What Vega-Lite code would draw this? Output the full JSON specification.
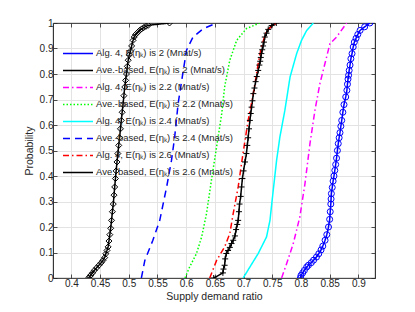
{
  "$schema": "https://vega.github.io/schema/vega-lite/v6.json",
  "autosize": {"type": "none"},
  "width": 322,
  "height": 255,
  "padding": {"left": 53, "top": 23, "right": 40, "bottom": 34},
  "background": "white",
  "config": {
    "font": "Liberation Sans",
    "view": {"stroke": "#262626", "strokeWidth": 0.8},
    "axis": {
      "domainColor": "#262626", "tickColor": "#262626", "labelColor": "#262626",
      "titleColor": "#262626", "labelFontSize": 10, "titleFontSize": 10.5,
      "titleFontWeight": "normal", "gridColor": "#e3e3e3", "tickSize": -4,
      "domainWidth": 0.8, "tickWidth": 0.8, "format": "~g"
    }
  },
  "datasets": {
    "cdf": [
      {"s": "Alg. 4, E(ηₖ) is 2 (Mnat/s)", "x": 0.799, "y": 0.0},
      {"s": "Alg. 4, E(ηₖ) is 2 (Mnat/s)", "x": 0.800, "y": 0.01},
      {"s": "Alg. 4, E(ηₖ) is 2 (Mnat/s)", "x": 0.803, "y": 0.02},
      {"s": "Alg. 4, E(ηₖ) is 2 (Mnat/s)", "x": 0.806, "y": 0.03},
      {"s": "Alg. 4, E(ηₖ) is 2 (Mnat/s)", "x": 0.810, "y": 0.043},
      {"s": "Alg. 4, E(ηₖ) is 2 (Mnat/s)", "x": 0.813, "y": 0.05},
      {"s": "Alg. 4, E(ηₖ) is 2 (Mnat/s)", "x": 0.818, "y": 0.06},
      {"s": "Alg. 4, E(ηₖ) is 2 (Mnat/s)", "x": 0.822, "y": 0.07},
      {"s": "Alg. 4, E(ηₖ) is 2 (Mnat/s)", "x": 0.827, "y": 0.082},
      {"s": "Alg. 4, E(ηₖ) is 2 (Mnat/s)", "x": 0.831, "y": 0.095},
      {"s": "Alg. 4, E(ηₖ) is 2 (Mnat/s)", "x": 0.835, "y": 0.11},
      {"s": "Alg. 4, E(ηₖ) is 2 (Mnat/s)", "x": 0.838, "y": 0.125},
      {"s": "Alg. 4, E(ηₖ) is 2 (Mnat/s)", "x": 0.842, "y": 0.148},
      {"s": "Alg. 4, E(ηₖ) is 2 (Mnat/s)", "x": 0.845, "y": 0.17},
      {"s": "Alg. 4, E(ηₖ) is 2 (Mnat/s)", "x": 0.848, "y": 0.2},
      {"s": "Alg. 4, E(ηₖ) is 2 (Mnat/s)", "x": 0.850, "y": 0.23},
      {"s": "Alg. 4, E(ηₖ) is 2 (Mnat/s)", "x": 0.851, "y": 0.26},
      {"s": "Alg. 4, E(ηₖ) is 2 (Mnat/s)", "x": 0.852, "y": 0.29},
      {"s": "Alg. 4, E(ηₖ) is 2 (Mnat/s)", "x": 0.8525, "y": 0.31},
      {"s": "Alg. 4, E(ηₖ) is 2 (Mnat/s)", "x": 0.853, "y": 0.331},
      {"s": "Alg. 4, E(ηₖ) is 2 (Mnat/s)", "x": 0.8545, "y": 0.355},
      {"s": "Alg. 4, E(ηₖ) is 2 (Mnat/s)", "x": 0.856, "y": 0.38},
      {"s": "Alg. 4, E(ηₖ) is 2 (Mnat/s)", "x": 0.8575, "y": 0.40},
      {"s": "Alg. 4, E(ηₖ) is 2 (Mnat/s)", "x": 0.859, "y": 0.422},
      {"s": "Alg. 4, E(ηₖ) is 2 (Mnat/s)", "x": 0.8605, "y": 0.445},
      {"s": "Alg. 4, E(ηₖ) is 2 (Mnat/s)", "x": 0.862, "y": 0.47},
      {"s": "Alg. 4, E(ηₖ) is 2 (Mnat/s)", "x": 0.8635, "y": 0.50},
      {"s": "Alg. 4, E(ηₖ) is 2 (Mnat/s)", "x": 0.865, "y": 0.527},
      {"s": "Alg. 4, E(ηₖ) is 2 (Mnat/s)", "x": 0.8665, "y": 0.55},
      {"s": "Alg. 4, E(ηₖ) is 2 (Mnat/s)", "x": 0.868, "y": 0.57},
      {"s": "Alg. 4, E(ηₖ) is 2 (Mnat/s)", "x": 0.8695, "y": 0.595},
      {"s": "Alg. 4, E(ηₖ) is 2 (Mnat/s)", "x": 0.871, "y": 0.618},
      {"s": "Alg. 4, E(ηₖ) is 2 (Mnat/s)", "x": 0.873, "y": 0.65},
      {"s": "Alg. 4, E(ηₖ) is 2 (Mnat/s)", "x": 0.875, "y": 0.68},
      {"s": "Alg. 4, E(ηₖ) is 2 (Mnat/s)", "x": 0.878, "y": 0.71},
      {"s": "Alg. 4, E(ηₖ) is 2 (Mnat/s)", "x": 0.880, "y": 0.736},
      {"s": "Alg. 4, E(ηₖ) is 2 (Mnat/s)", "x": 0.881, "y": 0.76},
      {"s": "Alg. 4, E(ηₖ) is 2 (Mnat/s)", "x": 0.882, "y": 0.78},
      {"s": "Alg. 4, E(ηₖ) is 2 (Mnat/s)", "x": 0.883, "y": 0.795},
      {"s": "Alg. 4, E(ηₖ) is 2 (Mnat/s)", "x": 0.884, "y": 0.814},
      {"s": "Alg. 4, E(ηₖ) is 2 (Mnat/s)", "x": 0.8855, "y": 0.835},
      {"s": "Alg. 4, E(ηₖ) is 2 (Mnat/s)", "x": 0.887, "y": 0.86},
      {"s": "Alg. 4, E(ηₖ) is 2 (Mnat/s)", "x": 0.889, "y": 0.88},
      {"s": "Alg. 4, E(ηₖ) is 2 (Mnat/s)", "x": 0.891, "y": 0.906},
      {"s": "Alg. 4, E(ηₖ) is 2 (Mnat/s)", "x": 0.893, "y": 0.925},
      {"s": "Alg. 4, E(ηₖ) is 2 (Mnat/s)", "x": 0.896, "y": 0.94},
      {"s": "Alg. 4, E(ηₖ) is 2 (Mnat/s)", "x": 0.899, "y": 0.955},
      {"s": "Alg. 4, E(ηₖ) is 2 (Mnat/s)", "x": 0.903, "y": 0.971},
      {"s": "Alg. 4, E(ηₖ) is 2 (Mnat/s)", "x": 0.911, "y": 0.985},
      {"s": "Alg. 4, E(ηₖ) is 2 (Mnat/s)", "x": 0.920, "y": 1.0},

      {"s": "Ave.-based, E(ηₖ) is 2 (Mnat/s)", "x": 0.648, "y": 0.0},
      {"s": "Ave.-based, E(ηₖ) is 2 (Mnat/s)", "x": 0.664, "y": 0.02},
      {"s": "Ave.-based, E(ηₖ) is 2 (Mnat/s)", "x": 0.665, "y": 0.035},
      {"s": "Ave.-based, E(ηₖ) is 2 (Mnat/s)", "x": 0.667, "y": 0.05},
      {"s": "Ave.-based, E(ηₖ) is 2 (Mnat/s)", "x": 0.668, "y": 0.075},
      {"s": "Ave.-based, E(ηₖ) is 2 (Mnat/s)", "x": 0.670, "y": 0.096},
      {"s": "Ave.-based, E(ηₖ) is 2 (Mnat/s)", "x": 0.673, "y": 0.108},
      {"s": "Ave.-based, E(ηₖ) is 2 (Mnat/s)", "x": 0.676, "y": 0.12},
      {"s": "Ave.-based, E(ηₖ) is 2 (Mnat/s)", "x": 0.679, "y": 0.135},
      {"s": "Ave.-based, E(ηₖ) is 2 (Mnat/s)", "x": 0.682, "y": 0.148},
      {"s": "Ave.-based, E(ηₖ) is 2 (Mnat/s)", "x": 0.685, "y": 0.165},
      {"s": "Ave.-based, E(ηₖ) is 2 (Mnat/s)", "x": 0.687, "y": 0.19},
      {"s": "Ave.-based, E(ηₖ) is 2 (Mnat/s)", "x": 0.689, "y": 0.21},
      {"s": "Ave.-based, E(ηₖ) is 2 (Mnat/s)", "x": 0.6906, "y": 0.226},
      {"s": "Ave.-based, E(ηₖ) is 2 (Mnat/s)", "x": 0.692, "y": 0.26},
      {"s": "Ave.-based, E(ηₖ) is 2 (Mnat/s)", "x": 0.693, "y": 0.29},
      {"s": "Ave.-based, E(ηₖ) is 2 (Mnat/s)", "x": 0.695, "y": 0.32},
      {"s": "Ave.-based, E(ηₖ) is 2 (Mnat/s)", "x": 0.6965, "y": 0.357},
      {"s": "Ave.-based, E(ηₖ) is 2 (Mnat/s)", "x": 0.698, "y": 0.39},
      {"s": "Ave.-based, E(ηₖ) is 2 (Mnat/s)", "x": 0.700, "y": 0.42},
      {"s": "Ave.-based, E(ηₖ) is 2 (Mnat/s)", "x": 0.7025, "y": 0.455},
      {"s": "Ave.-based, E(ηₖ) is 2 (Mnat/s)", "x": 0.705, "y": 0.488},
      {"s": "Ave.-based, E(ηₖ) is 2 (Mnat/s)", "x": 0.7065, "y": 0.52},
      {"s": "Ave.-based, E(ηₖ) is 2 (Mnat/s)", "x": 0.708, "y": 0.55},
      {"s": "Ave.-based, E(ηₖ) is 2 (Mnat/s)", "x": 0.7095, "y": 0.585},
      {"s": "Ave.-based, E(ηₖ) is 2 (Mnat/s)", "x": 0.711, "y": 0.618},
      {"s": "Ave.-based, E(ηₖ) is 2 (Mnat/s)", "x": 0.7125, "y": 0.645},
      {"s": "Ave.-based, E(ηₖ) is 2 (Mnat/s)", "x": 0.714, "y": 0.67},
      {"s": "Ave.-based, E(ηₖ) is 2 (Mnat/s)", "x": 0.7155, "y": 0.695},
      {"s": "Ave.-based, E(ηₖ) is 2 (Mnat/s)", "x": 0.717, "y": 0.723},
      {"s": "Ave.-based, E(ηₖ) is 2 (Mnat/s)", "x": 0.719, "y": 0.745},
      {"s": "Ave.-based, E(ηₖ) is 2 (Mnat/s)", "x": 0.721, "y": 0.77},
      {"s": "Ave.-based, E(ηₖ) is 2 (Mnat/s)", "x": 0.723, "y": 0.79},
      {"s": "Ave.-based, E(ηₖ) is 2 (Mnat/s)", "x": 0.7255, "y": 0.814},
      {"s": "Ave.-based, E(ηₖ) is 2 (Mnat/s)", "x": 0.7275, "y": 0.835},
      {"s": "Ave.-based, E(ηₖ) is 2 (Mnat/s)", "x": 0.729, "y": 0.85},
      {"s": "Ave.-based, E(ηₖ) is 2 (Mnat/s)", "x": 0.730, "y": 0.865},
      {"s": "Ave.-based, E(ηₖ) is 2 (Mnat/s)", "x": 0.731, "y": 0.88},
      {"s": "Ave.-based, E(ηₖ) is 2 (Mnat/s)", "x": 0.7325, "y": 0.895},
      {"s": "Ave.-based, E(ηₖ) is 2 (Mnat/s)", "x": 0.734, "y": 0.91},
      {"s": "Ave.-based, E(ηₖ) is 2 (Mnat/s)", "x": 0.7355, "y": 0.925},
      {"s": "Ave.-based, E(ηₖ) is 2 (Mnat/s)", "x": 0.737, "y": 0.945},
      {"s": "Ave.-based, E(ηₖ) is 2 (Mnat/s)", "x": 0.740, "y": 0.96},
      {"s": "Ave.-based, E(ηₖ) is 2 (Mnat/s)", "x": 0.743, "y": 0.975},
      {"s": "Ave.-based, E(ηₖ) is 2 (Mnat/s)", "x": 0.749, "y": 0.99},
      {"s": "Ave.-based, E(ηₖ) is 2 (Mnat/s)", "x": 0.757, "y": 1.0},

      {"s": "Alg. 4, E(ηₖ) is 2.2 (Mnat/s)", "x": 0.7663, "y": 0.0},
      {"s": "Alg. 4, E(ηₖ) is 2.2 (Mnat/s)", "x": 0.775, "y": 0.056},
      {"s": "Alg. 4, E(ηₖ) is 2.2 (Mnat/s)", "x": 0.7866, "y": 0.135},
      {"s": "Alg. 4, E(ηₖ) is 2.2 (Mnat/s)", "x": 0.798, "y": 0.239},
      {"s": "Alg. 4, E(ηₖ) is 2.2 (Mnat/s)", "x": 0.807, "y": 0.370},
      {"s": "Alg. 4, E(ηₖ) is 2.2 (Mnat/s)", "x": 0.8157, "y": 0.527},
      {"s": "Alg. 4, E(ηₖ) is 2.2 (Mnat/s)", "x": 0.8244, "y": 0.658},
      {"s": "Alg. 4, E(ηₖ) is 2.2 (Mnat/s)", "x": 0.833, "y": 0.762},
      {"s": "Alg. 4, E(ηₖ) is 2.2 (Mnat/s)", "x": 0.8418, "y": 0.841},
      {"s": "Alg. 4, E(ηₖ) is 2.2 (Mnat/s)", "x": 0.8505, "y": 0.919},
      {"s": "Alg. 4, E(ηₖ) is 2.2 (Mnat/s)", "x": 0.862, "y": 0.945},
      {"s": "Alg. 4, E(ηₖ) is 2.2 (Mnat/s)", "x": 0.8797, "y": 1.0},

      {"s": "Ave.-based, E(ηₖ) is 2.2 (Mnat/s)", "x": 0.598, "y": 0.0},
      {"s": "Ave.-based, E(ηₖ) is 2.2 (Mnat/s)", "x": 0.606, "y": 0.043},
      {"s": "Ave.-based, E(ηₖ) is 2.2 (Mnat/s)", "x": 0.618, "y": 0.096},
      {"s": "Ave.-based, E(ηₖ) is 2.2 (Mnat/s)", "x": 0.627, "y": 0.161},
      {"s": "Ave.-based, E(ηₖ) is 2.2 (Mnat/s)", "x": 0.6355, "y": 0.253},
      {"s": "Ave.-based, E(ηₖ) is 2.2 (Mnat/s)", "x": 0.644, "y": 0.383},
      {"s": "Ave.-based, E(ηₖ) is 2.2 (Mnat/s)", "x": 0.653, "y": 0.514},
      {"s": "Ave.-based, E(ηₖ) is 2.2 (Mnat/s)", "x": 0.662, "y": 0.645},
      {"s": "Ave.-based, E(ηₖ) is 2.2 (Mnat/s)", "x": 0.667, "y": 0.749},
      {"s": "Ave.-based, E(ηₖ) is 2.2 (Mnat/s)", "x": 0.676, "y": 0.854},
      {"s": "Ave.-based, E(ηₖ) is 2.2 (Mnat/s)", "x": 0.688, "y": 0.932},
      {"s": "Ave.-based, E(ηₖ) is 2.2 (Mnat/s)", "x": 0.705, "y": 0.978},
      {"s": "Ave.-based, E(ηₖ) is 2.2 (Mnat/s)", "x": 0.728, "y": 1.0},

      {"s": "Alg. 4, E(ηₖ) is 2.4 (Mnat/s)", "x": 0.6993, "y": 0.0},
      {"s": "Alg. 4, E(ηₖ) is 2.4 (Mnat/s)", "x": 0.711, "y": 0.043},
      {"s": "Alg. 4, E(ηₖ) is 2.4 (Mnat/s)", "x": 0.7255, "y": 0.096},
      {"s": "Alg. 4, E(ηₖ) is 2.4 (Mnat/s)", "x": 0.740, "y": 0.161},
      {"s": "Alg. 4, E(ηₖ) is 2.4 (Mnat/s)", "x": 0.746, "y": 0.226},
      {"s": "Alg. 4, E(ηₖ) is 2.4 (Mnat/s)", "x": 0.7517, "y": 0.344},
      {"s": "Alg. 4, E(ηₖ) is 2.4 (Mnat/s)", "x": 0.7576, "y": 0.462},
      {"s": "Alg. 4, E(ηₖ) is 2.4 (Mnat/s)", "x": 0.7633, "y": 0.553},
      {"s": "Alg. 4, E(ηₖ) is 2.4 (Mnat/s)", "x": 0.772, "y": 0.658},
      {"s": "Alg. 4, E(ηₖ) is 2.4 (Mnat/s)", "x": 0.781, "y": 0.788},
      {"s": "Alg. 4, E(ηₖ) is 2.4 (Mnat/s)", "x": 0.7925, "y": 0.880},
      {"s": "Alg. 4, E(ηₖ) is 2.4 (Mnat/s)", "x": 0.801, "y": 0.932},
      {"s": "Alg. 4, E(ηₖ) is 2.4 (Mnat/s)", "x": 0.810, "y": 0.971},
      {"s": "Alg. 4, E(ηₖ) is 2.4 (Mnat/s)", "x": 0.8215, "y": 1.0},

      {"s": "Ave.-based, E(ηₖ) is 2.4 (Mnat/s)", "x": 0.522, "y": 0.0},
      {"s": "Ave.-based, E(ηₖ) is 2.4 (Mnat/s)", "x": 0.528, "y": 0.069},
      {"s": "Ave.-based, E(ηₖ) is 2.4 (Mnat/s)", "x": 0.542, "y": 0.148},
      {"s": "Ave.-based, E(ηₖ) is 2.4 (Mnat/s)", "x": 0.554, "y": 0.226},
      {"s": "Ave.-based, E(ηₖ) is 2.4 (Mnat/s)", "x": 0.566, "y": 0.357},
      {"s": "Ave.-based, E(ηₖ) is 2.4 (Mnat/s)", "x": 0.5745, "y": 0.462},
      {"s": "Ave.-based, E(ηₖ) is 2.4 (Mnat/s)", "x": 0.580, "y": 0.553},
      {"s": "Ave.-based, E(ηₖ) is 2.4 (Mnat/s)", "x": 0.586, "y": 0.684},
      {"s": "Ave.-based, E(ηₖ) is 2.4 (Mnat/s)", "x": 0.595, "y": 0.814},
      {"s": "Ave.-based, E(ηₖ) is 2.4 (Mnat/s)", "x": 0.6006, "y": 0.893},
      {"s": "Ave.-based, E(ηₖ) is 2.4 (Mnat/s)", "x": 0.612, "y": 0.945},
      {"s": "Ave.-based, E(ηₖ) is 2.4 (Mnat/s)", "x": 0.630, "y": 0.978},
      {"s": "Ave.-based, E(ηₖ) is 2.4 (Mnat/s)", "x": 0.653, "y": 1.0},

      {"s": "Alg. 4, E(ηₖ) is 2.6 (Mnat/s)", "x": 0.641, "y": 0.0},
      {"s": "Alg. 4, E(ηₖ) is 2.6 (Mnat/s)", "x": 0.653, "y": 0.069},
      {"s": "Alg. 4, E(ηₖ) is 2.6 (Mnat/s)", "x": 0.667, "y": 0.122},
      {"s": "Alg. 4, E(ηₖ) is 2.6 (Mnat/s)", "x": 0.676, "y": 0.174},
      {"s": "Alg. 4, E(ηₖ) is 2.6 (Mnat/s)", "x": 0.682, "y": 0.253},
      {"s": "Alg. 4, E(ηₖ) is 2.6 (Mnat/s)", "x": 0.6906, "y": 0.357},
      {"s": "Alg. 4, E(ηₖ) is 2.6 (Mnat/s)", "x": 0.699, "y": 0.488},
      {"s": "Alg. 4, E(ηₖ) is 2.6 (Mnat/s)", "x": 0.708, "y": 0.618},
      {"s": "Alg. 4, E(ηₖ) is 2.6 (Mnat/s)", "x": 0.717, "y": 0.723},
      {"s": "Alg. 4, E(ηₖ) is 2.6 (Mnat/s)", "x": 0.7255, "y": 0.841},
      {"s": "Alg. 4, E(ηₖ) is 2.6 (Mnat/s)", "x": 0.731, "y": 0.906},
      {"s": "Alg. 4, E(ηₖ) is 2.6 (Mnat/s)", "x": 0.740, "y": 0.971},
      {"s": "Alg. 4, E(ηₖ) is 2.6 (Mnat/s)", "x": 0.7576, "y": 1.0},

      {"s": "Ave.-based, E(ηₖ) is 2.6 (Mnat/s)", "x": 0.430, "y": 0.0},
      {"s": "Ave.-based, E(ηₖ) is 2.6 (Mnat/s)", "x": 0.432, "y": 0.006},
      {"s": "Ave.-based, E(ηₖ) is 2.6 (Mnat/s)", "x": 0.434, "y": 0.012},
      {"s": "Ave.-based, E(ηₖ) is 2.6 (Mnat/s)", "x": 0.437, "y": 0.02},
      {"s": "Ave.-based, E(ηₖ) is 2.6 (Mnat/s)", "x": 0.440, "y": 0.03},
      {"s": "Ave.-based, E(ηₖ) is 2.6 (Mnat/s)", "x": 0.444, "y": 0.04},
      {"s": "Ave.-based, E(ηₖ) is 2.6 (Mnat/s)", "x": 0.448, "y": 0.05},
      {"s": "Ave.-based, E(ηₖ) is 2.6 (Mnat/s)", "x": 0.452, "y": 0.06},
      {"s": "Ave.-based, E(ηₖ) is 2.6 (Mnat/s)", "x": 0.455, "y": 0.069},
      {"s": "Ave.-based, E(ηₖ) is 2.6 (Mnat/s)", "x": 0.458, "y": 0.08},
      {"s": "Ave.-based, E(ηₖ) is 2.6 (Mnat/s)", "x": 0.460, "y": 0.095},
      {"s": "Ave.-based, E(ηₖ) is 2.6 (Mnat/s)", "x": 0.462, "y": 0.108},
      {"s": "Ave.-based, E(ηₖ) is 2.6 (Mnat/s)", "x": 0.464, "y": 0.122},
      {"s": "Ave.-based, E(ηₖ) is 2.6 (Mnat/s)", "x": 0.4655, "y": 0.145},
      {"s": "Ave.-based, E(ηₖ) is 2.6 (Mnat/s)", "x": 0.467, "y": 0.17},
      {"s": "Ave.-based, E(ηₖ) is 2.6 (Mnat/s)", "x": 0.4685, "y": 0.195},
      {"s": "Ave.-based, E(ηₖ) is 2.6 (Mnat/s)", "x": 0.470, "y": 0.226},
      {"s": "Ave.-based, E(ηₖ) is 2.6 (Mnat/s)", "x": 0.4715, "y": 0.26},
      {"s": "Ave.-based, E(ηₖ) is 2.6 (Mnat/s)", "x": 0.473, "y": 0.29},
      {"s": "Ave.-based, E(ηₖ) is 2.6 (Mnat/s)", "x": 0.4743, "y": 0.325},
      {"s": "Ave.-based, E(ηₖ) is 2.6 (Mnat/s)", "x": 0.4755, "y": 0.357},
      {"s": "Ave.-based, E(ηₖ) is 2.6 (Mnat/s)", "x": 0.4768, "y": 0.39},
      {"s": "Ave.-based, E(ηₖ) is 2.6 (Mnat/s)", "x": 0.478, "y": 0.42},
      {"s": "Ave.-based, E(ηₖ) is 2.6 (Mnat/s)", "x": 0.4795, "y": 0.455},
      {"s": "Ave.-based, E(ηₖ) is 2.6 (Mnat/s)", "x": 0.481, "y": 0.488},
      {"s": "Ave.-based, E(ηₖ) is 2.6 (Mnat/s)", "x": 0.4825, "y": 0.52},
      {"s": "Ave.-based, E(ηₖ) is 2.6 (Mnat/s)", "x": 0.484, "y": 0.55},
      {"s": "Ave.-based, E(ηₖ) is 2.6 (Mnat/s)", "x": 0.4855, "y": 0.585},
      {"s": "Ave.-based, E(ηₖ) is 2.6 (Mnat/s)", "x": 0.487, "y": 0.618},
      {"s": "Ave.-based, E(ηₖ) is 2.6 (Mnat/s)", "x": 0.4885, "y": 0.65},
      {"s": "Ave.-based, E(ηₖ) is 2.6 (Mnat/s)", "x": 0.490, "y": 0.68},
      {"s": "Ave.-based, E(ηₖ) is 2.6 (Mnat/s)", "x": 0.4915, "y": 0.715},
      {"s": "Ave.-based, E(ηₖ) is 2.6 (Mnat/s)", "x": 0.493, "y": 0.749},
      {"s": "Ave.-based, E(ηₖ) is 2.6 (Mnat/s)", "x": 0.4945, "y": 0.775},
      {"s": "Ave.-based, E(ηₖ) is 2.6 (Mnat/s)", "x": 0.496, "y": 0.80},
      {"s": "Ave.-based, E(ηₖ) is 2.6 (Mnat/s)", "x": 0.4975, "y": 0.83},
      {"s": "Ave.-based, E(ηₖ) is 2.6 (Mnat/s)", "x": 0.499, "y": 0.854},
      {"s": "Ave.-based, E(ηₖ) is 2.6 (Mnat/s)", "x": 0.501, "y": 0.875},
      {"s": "Ave.-based, E(ηₖ) is 2.6 (Mnat/s)", "x": 0.503, "y": 0.89},
      {"s": "Ave.-based, E(ηₖ) is 2.6 (Mnat/s)", "x": 0.505, "y": 0.91},
      {"s": "Ave.-based, E(ηₖ) is 2.6 (Mnat/s)", "x": 0.5075, "y": 0.932},
      {"s": "Ave.-based, E(ηₖ) is 2.6 (Mnat/s)", "x": 0.5095, "y": 0.945},
      {"s": "Ave.-based, E(ηₖ) is 2.6 (Mnat/s)", "x": 0.512, "y": 0.955},
      {"s": "Ave.-based, E(ηₖ) is 2.6 (Mnat/s)", "x": 0.5155, "y": 0.963},
      {"s": "Ave.-based, E(ηₖ) is 2.6 (Mnat/s)", "x": 0.519, "y": 0.971},
      {"s": "Ave.-based, E(ηₖ) is 2.6 (Mnat/s)", "x": 0.5225, "y": 0.977},
      {"s": "Ave.-based, E(ηₖ) is 2.6 (Mnat/s)", "x": 0.526, "y": 0.982},
      {"s": "Ave.-based, E(ηₖ) is 2.6 (Mnat/s)", "x": 0.530, "y": 0.987},
      {"s": "Ave.-based, E(ηₖ) is 2.6 (Mnat/s)", "x": 0.534, "y": 0.991},
      {"s": "Ave.-based, E(ηₖ) is 2.6 (Mnat/s)", "x": 0.571, "y": 1.0}
    ]
  },
  "data": {"name": "cdf"},
  "layer": [
    {
      "mark": {"type": "line", "strokeWidth": 1.5, "clip": true},
      "encoding": {
        "x": {"field": "x", "type": "quantitative",
              "scale": {"domain": [0.368, 0.929], "nice": false, "zero": false},
              "axis": {"title": "Supply demand ratio", "values": [0.4,0.45,0.5,0.55,0.6,0.65,0.7,0.75,0.8,0.85,0.9], "grid": true, "labelPadding": 4, "titlePadding": 3}},
        "y": {"field": "y", "type": "quantitative",
              "scale": {"domain": [0, 1], "nice": false},
              "axis": {"title": "Probability", "values": [0,0.1,0.2,0.3,0.4,0.5,0.6,0.7,0.8,0.9,1], "grid": true, "labelPadding": 4, "titlePadding": 5}},
        "color": {"field": "s", "type": "nominal",
          "scale": {
            "domain": ["Alg. 4, E(ηₖ) is 2 (Mnat/s)", "Ave.-based, E(ηₖ) is 2 (Mnat/s)", "Alg. 4, E(ηₖ) is 2.2 (Mnat/s)", "Ave.-based, E(ηₖ) is 2.2 (Mnat/s)", "Alg. 4, E(ηₖ) is 2.4 (Mnat/s)", "Ave.-based, E(ηₖ) is 2.4 (Mnat/s)", "Alg. 4, E(ηₖ) is 2.6 (Mnat/s)", "Ave.-based, E(ηₖ) is 2.6 (Mnat/s)"],
            "range": ["#0000ff", "#000000", "#ff00ff", "#00ff00", "#00ffff", "#0000ff", "#ff0000", "#000000"]},
          "legend": {"title": null, "orient": "none", "legendX": 9, "legendY": 22, "symbolType": "stroke", "symbolSize": 900, "symbolStrokeWidth": 1.5, "labelFontSize": 9.5, "labelColor": "#262626", "labelOffset": 2, "clipHeight": 16.8, "rowPadding": 0, "padding": 0, "labelLimit": 300}},
        "strokeDash": {"field": "s", "type": "nominal",
          "scale": {
            "domain": ["Alg. 4, E(ηₖ) is 2 (Mnat/s)", "Ave.-based, E(ηₖ) is 2 (Mnat/s)", "Alg. 4, E(ηₖ) is 2.2 (Mnat/s)", "Ave.-based, E(ηₖ) is 2.2 (Mnat/s)", "Alg. 4, E(ηₖ) is 2.4 (Mnat/s)", "Ave.-based, E(ηₖ) is 2.4 (Mnat/s)", "Alg. 4, E(ηₖ) is 2.6 (Mnat/s)", "Ave.-based, E(ηₖ) is 2.6 (Mnat/s)"],
            "range": [[1,0], [1,0], [6,3,1.5,3], [1.5,2], [1,0], [7,5], [6,3,1.5,3], [1,0]]},
          "legend": {"title": null, "orient": "none", "legendX": 9, "legendY": 22, "symbolType": "stroke", "symbolSize": 900, "symbolStrokeWidth": 1.5, "labelFontSize": 9.5, "labelColor": "#262626", "labelOffset": 2, "clipHeight": 16.8, "rowPadding": 0, "padding": 0, "labelLimit": 300}},
        "strokeWidth": {"condition": {"test": "indexof(datum.s, 'Ave.-based, E(ηₖ) is 2 ') == 0 || indexof(datum.s, 'Ave.-based, E(ηₖ) is 2.6') == 0", "value": 1}, "value": 1.5}
      }
    },
    {
      "transform": [{"filter": "indexof(['Alg. 4, E(ηₖ) is 2 (Mnat/s)','Ave.-based, E(ηₖ) is 2 (Mnat/s)','Ave.-based, E(ηₖ) is 2.6 (Mnat/s)'], datum.s) >= 0"}],
      "mark": {"type": "point", "filled": false, "strokeWidth": 1, "opacity": 1, "clip": true},
      "encoding": {
        "x": {"field": "x", "type": "quantitative", "scale": {"domain": [0.368, 0.929], "nice": false, "zero": false},
              "axis": {"orient": "top", "labels": false, "title": null, "grid": false, "values": [0.4,0.45,0.5,0.55,0.6,0.65,0.7,0.75,0.8,0.85,0.9]}},
        "y": {"field": "y", "type": "quantitative", "scale": {"domain": [0, 1], "nice": false},
              "axis": {"orient": "right", "labels": false, "title": null, "grid": false, "values": [0,0.1,0.2,0.3,0.4,0.5,0.6,0.7,0.8,0.9,1]}},
        "color": {"field": "s", "type": "nominal", "legend": null},
        "shape": {"field": "s", "type": "nominal", "legend": null,
          "scale": {"domain": ["Alg. 4, E(ηₖ) is 2 (Mnat/s)", "Ave.-based, E(ηₖ) is 2 (Mnat/s)", "Ave.-based, E(ηₖ) is 2.6 (Mnat/s)"],
                    "range": ["circle", "M-1,0H1M0,-1V1", "diamond"]}},
        "size": {"value": 36}
      }
    }
  ],
  "resolve": {"axis": {"x": "independent", "y": "independent"}}
}
